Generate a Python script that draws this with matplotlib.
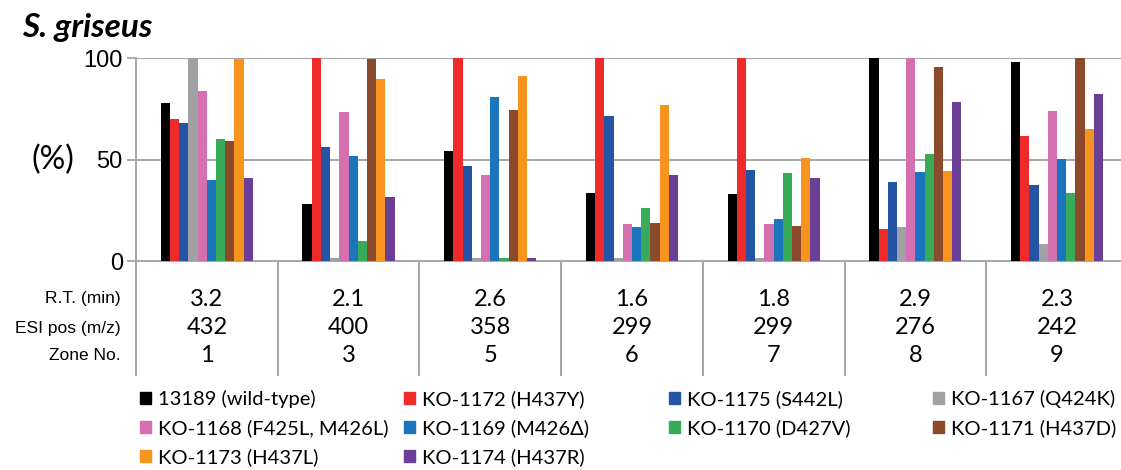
import matplotlib
matplotlib.use("Agg")
import matplotlib.pyplot as plt
import matplotlib.patches as mpatches
import matplotlib.transforms as mtransforms
import numpy as np

W, H = 1121, 470

strains = ["13189 (wild-type)", "KO-1172 (H437Y)", "KO-1175 (S442L)", "KO-1167 (Q424K)",
           "KO-1168 (F425L, M426L)", "KO-1169 (M426\u0394)", "KO-1170 (D427V)", "KO-1171 (H437D)",
           "KO-1173 (H437L)", "KO-1174 (H437R)"]
colors = ["#000000", "#ee2a2a", "#2554a4", "#a0a1a4", "#d470b0",
          "#1b75bc", "#38ab5a", "#8b4a2b", "#f7941d", "#6b3f98"]

rt_min = ["3.2", "2.1", "2.6", "1.6", "1.8", "2.9", "2.3"]
esi_mz = ["432", "400", "358", "299", "299", "276", "242"]
zone_no = ["1", "3", "5", "6", "7", "8", "9"]

# percent per strain, one value per zone
wild_type = [78, 28, 54, 33.5, 33, 100, 98]
ko_1172 = [70, 100, 100, 100, 100, 16, 61.5]
ko_1175 = [68, 56, 47, 71.5, 44.7, 39, 37.5]
ko_1167 = [100, 1.3, 1.5, 1.5, 1.5, 16.7, 8.2]
ko_1168 = [83.5, 73.5, 42.4, 18, 18, 100, 73.7]
ko_1169 = [40, 51.7, 80.8, 16.6, 20.5, 43.7, 50.2]
ko_1170 = [60, 9.7, 1.5, 26, 43.5, 52.5, 33.3]
ko_1171 = [59, 99.4, 74.5, 18.6, 17, 95.4, 100]
ko_1173 = [99.4, 89.7, 91, 77, 50.7, 44.2, 65.2]
ko_1174 = [40.7, 31.5, 1.5, 42.4, 41, 78.3, 82.3]
series = [wild_type, ko_1172, ko_1175, ko_1167, ko_1168,
          ko_1169, ko_1170, ko_1171, ko_1173, ko_1174]

plt.rcParams["font.family"] = ["Lato", "DejaVu Sans"]
GRID = "#a6a6a6"

fig = plt.figure(figsize=(W / 100, H / 100), dpi=100)
ax = fig.add_axes([136 / W, (H - 261) / H, (W - 136) / W, 203 / H])

x = np.arange(len(zone_no))
bw = 0.065
for i, (vals, c) in enumerate(zip(series, colors)):
    ax.bar(x + (i - 4.5) * bw, vals, width=bw, color=c, zorder=3)

ax.set_xlim(-0.5, -0.5 + (W - 136) / 141.7)
ax.set_ylim(0, 100)
ax.set_yticks([0, 50, 100])
ax.set_yticklabels(["0", "50", "100"], family=["Liberation Sans"], fontsize=17)
ax.tick_params(axis="y", length=6.5, width=1.3, color=GRID, pad=3)
ax.set_xticks([])
for y in (50, 100):
    ax.axhline(y, color=GRID, lw=1.4, zorder=1)
for s in ("top", "right", "left"):
    ax.spines[s].set_visible(False)
ax.spines["bottom"].set_color(GRID)
ax.spines["bottom"].set_linewidth(1.4)

# vertical separators for the table below the axis
trans = mtransforms.blended_transform_factory(ax.transData, ax.transAxes)
low = -(375 - 261) / 203
ax.plot([-0.5, -0.5], [1, low], color=GRID, lw=1.4, transform=trans, clip_on=False)
for b in np.arange(0.5, len(zone_no) - 1, 1.0):
    ax.plot([b, b], [0, low], color=GRID, lw=1.4, transform=trans, clip_on=False)

ttrans = mtransforms.blended_transform_factory(ax.transData, fig.transFigure)
rows = [("R.T. (min)", rt_min, 299), ("ESI pos (m/z)", esi_mz, 328), ("Zone No.", zone_no, 356)]
for label, vals, ypix in rows:
    fig.text(121 / W, 1 - ypix / H, label, ha="right", va="center",
             family=["Liberation Sans"], fontsize=12.5)
    for xi, v in zip(x, vals):
        ax.text(xi, 1 - ypix / H, v, transform=ttrans, ha="center", va="center", fontsize=17)

fig.text(22 / W, 1 - 27 / H, "S. griseus", ha="left", va="center",
         fontsize=24, fontweight="bold", fontstyle="italic")
fig.text(53 / W, 1 - 160 / H, "(%)", ha="center", va="center", fontsize=23)

# legend in 4 equal-width columns, filled row by row
col_x = [140, 404, 669, 933]
for c in range(4):
    idx = list(range(c, len(strains), 4))
    handles = [mpatches.Patch(color=colors[k]) for k in idx]
    fig.legend(handles, [strains[k] for k in idx], loc="upper left",
               bbox_to_anchor=(col_x[c] / W, 1 - 390 / H), frameon=False,
               fontsize=14.5, handlelength=0.55, handleheight=0.55,
               handletextpad=0.36, labelspacing=0.55, borderpad=0, borderaxespad=0)

fig.savefig("out.png", dpi=100)
